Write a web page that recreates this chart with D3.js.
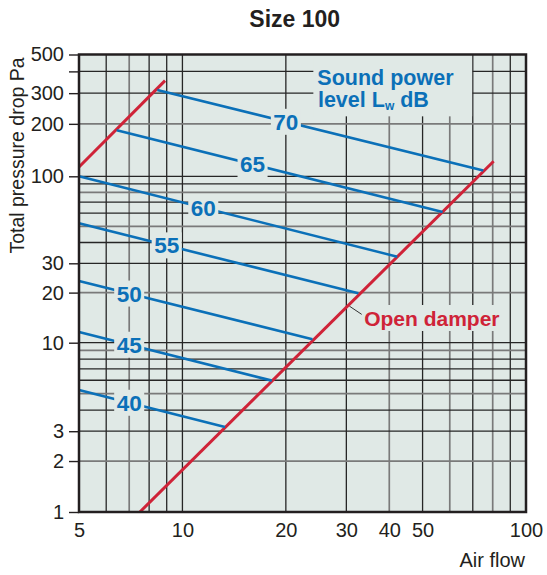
<!DOCTYPE html>
<html>
<head>
<meta charset="utf-8">
<script src="https://cdn.jsdelivr.net/npm/d3@7"></script>
<style>
  body { margin: 0; background: #fff; }
  svg { display: block; font-family: "Liberation Sans", Arial, sans-serif; }
</style>
</head>
<body>
<div id="chart"></div>
<script>
// sound power level lines, dB (start point / end point on the damper curve)
const levels = [40, 45, 50, 55, 60, 65, 70];
const startFlow = [5, 5, 5, 5, 5, 6.44, 8.45];
const startDrop = [5.26, 11.6, 23.5, 52.2, 100, 184, 313];
const endFlow = [13.3, 18.2, 23.9, 32.5, 42.2, 57.2, 75.1];
const endDrop = [3.18, 5.97, 10.5, 19.8, 32.9, 61, 108];
const labelFlow = [7, 7, 7, 9, 11.5, 16, 20];

// open damper curve, drawn in two pieces
const damperFlowA = [5, 8.9],
  damperDropA = [113, 354];
const damperFlowB = [7.52, 80.5],
  damperDropB = [1, 122];

// axes
const xTicks = [5, 10, 20, 30, 40, 50, 100];
const xGrid = [6, 7, 8, 9, 10, 20, 30, 40, 50, 60, 70, 80, 90];
const yTicks = [1, 2, 3, 10, 20, 30, 100, 200, 300, 400, 500];
const yGrid = [2, 3, 4, 5, 6, 7, 8, 9, 10, 20, 30, 40, 50, 60, 70, 80, 90, 100, 200, 300, 400];

// gridlines printed lighter in the original
const xGray = [7, 40, 60, 80],
  yGray = [2, 5, 9, 20, 50, 80, 200];

const blue = "#0b70b8",
  red = "#cf2338",
  ink = "#231f20",
  paper = "#e0e9e6";

let draw = () => {
  var width = 547,
    height = 575;

  var svg = d3
    .select("#chart")
    .append("svg")
    .attr("width", width)
    .attr("height", height);

  var x = d3.scaleLog().domain([5, 100]).range([79, 526]),
    y = d3.scaleLog().domain([1, 10, 100, 500]).range([512, 342.7, 176.3, 54.5]);

  var x0 = x(5),
    x1 = x(100),
    y0 = y(1),
    y1 = y(500);

  // background
  svg
    .append("rect")
    .attr("x", x0)
    .attr("y", y1)
    .attr("width", x1 - x0)
    .attr("height", y0 - y1)
    .attr("fill", paper);

  // grid
  var grid = svg.append("g");
  grid
    .selectAll(".vg")
    .data(xGrid)
    .enter()
    .append("line")
    .attr("x1", (d) => x(d))
    .attr("x2", (d) => x(d))
    .attr("y1", y1)
    .attr("y2", y0)
    .attr("stroke", (d) => (xGray.includes(d) ? "#7a7a7a" : "#262626"))
    .attr("stroke-width", (d) => (xGray.includes(d) ? 1.7 : 1.3));
  grid
    .selectAll(".hg")
    .data(yGrid)
    .enter()
    .append("line")
    .attr("x1", x0)
    .attr("x2", x1)
    .attr("y1", (d) => y(d))
    .attr("y2", (d) => y(d))
    .attr("stroke", (d) => (yGray.includes(d) ? "#7a7a7a" : "#262626"))
    .attr("stroke-width", (d) => (yGray.includes(d) ? 1.7 : 1.3));

  // "Sound power level Lw dB" note
  var note = svg.append("g");
  var nt = note
    .append("text")
    .attr("x", x(24.7))
    .attr("y", y(334))
    .attr("fill", blue)
    .attr("font-weight", "bold")
    .attr("font-size", 21.5);
  nt.append("tspan").text("Sound power");
  nt.append("tspan").attr("x", x(24.8)).attr("dy", 22.3).text("level L");
  nt.append("tspan").attr("font-size", 12).attr("dy", 3).text("w");
  nt.append("tspan").attr("dy", -3).text(" dB");
  var nb = nt.node().getBBox();
  note
    .insert("rect", "text")
    .attr("x", nb.x - 4)
    .attr("y", y1)
    .attr("width", nb.width + 22)
    .attr("height", nb.y + nb.height + 3 - y1)
    .attr("fill", paper);

  // "Open damper" note
  var od = svg.append("g");
  var ot = od
    .append("text")
    .attr("x", x(33.8))
    .attr("y", y(12.6))
    .attr("fill", red)
    .attr("font-weight", "bold")
    .attr("font-size", 21)
    .text("Open damper");
  var ob = ot.node().getBBox();
  od.insert("rect", "text")
    .attr("x", ob.x - 3)
    .attr("y", ob.y - 2)
    .attr("width", ob.width + 6)
    .attr("height", ob.height + 3)
    .attr("fill", paper);
  od.append("line")
    .attr("x1", x(30.6))
    .attr("y1", y(16.6))
    .attr("x2", x(33.25))
    .attr("y2", y(14.8))
    .attr("stroke", "#333")
    .attr("stroke-width", 1);

  var Line = d3
    .line()
    .x((d) => x(d[0]))
    .y((d) => y(d[1]));

  // open damper curve
  [d3.zip(damperFlowA, damperDropA), d3.zip(damperFlowB, damperDropB)].forEach((pts) => {
    svg
      .append("path")
      .attr("d", Line(pts))
      .attr("fill", "none")
      .attr("stroke", red)
      .attr("stroke-width", 3);
  });

  // sound power lines
  levels.forEach((lv, i) => {
    var pts = [
      [startFlow[i], startDrop[i]],
      [endFlow[i], endDrop[i]],
    ];
    svg
      .append("path")
      .attr("d", Line(pts))
      .attr("fill", "none")
      .attr("stroke", blue)
      .attr("stroke-width", 2.6);
  });

  // level labels sit on their lines and break them
  levels.forEach((lv, i) => {
    var ax = x(startFlow[i]),
      ay = y(startDrop[i]),
      bx = x(endFlow[i]),
      by = y(endDrop[i]);
    var lx = x(labelFlow[i]),
      t = (lx - ax) / (bx - ax),
      ly = ay + t * (by - ay);
    var g = svg.append("g");
    var tx = g
      .append("text")
      .attr("x", lx)
      .attr("y", ly)
      .attr("dy", "0.36em")
      .attr("text-anchor", "middle")
      .attr("fill", blue)
      .attr("font-weight", "bold")
      .attr("font-size", 22.5)
      .text(lv);
    var b = tx.node().getBBox();
    g.insert("rect", "text")
      .attr("x", b.x - 2.5)
      .attr("y", b.y - 1)
      .attr("width", b.width + 5)
      .attr("height", b.height + 1)
      .attr("fill", paper);
  });

  // frame
  svg
    .append("rect")
    .attr("x", x0)
    .attr("y", y1)
    .attr("width", x1 - x0)
    .attr("height", y0 - y1)
    .attr("fill", "none")
    .attr("stroke", ink)
    .attr("stroke-width", 2.5);

  // axes
  var ya = svg
    .append("g")
    .attr("transform", `translate(${x0}, 0)`)
    .call(
      d3
        .axisLeft(y)
        .tickValues(yTicks)
        .tickSize(10)
        .tickPadding(5)
        .tickFormat((d) => (d === 400 ? "" : d))
    );
  ya.select(".domain").remove();
  ya.selectAll(".tick line").attr("stroke", ink).attr("stroke-width", 1.4);
  ya.selectAll("text")
    .attr("fill", ink)
    .attr("font-size", 20)
    .attr("font-family", "Liberation Sans, Arial, sans-serif");

  var xa = svg
    .append("g")
    .attr("transform", `translate(0, ${y0})`)
    .call(
      d3
        .axisBottom(x)
        .tickValues(xTicks)
        .tickSize(0)
        .tickPadding(11)
        .tickFormat(d3.format("d"))
    );
  xa.select(".domain").remove();
  xa.selectAll("text")
    .attr("fill", ink)
    .attr("font-size", 20)
    .attr("font-family", "Liberation Sans, Arial, sans-serif");

  // titles
  svg
    .append("text")
    .attr("x", 294.7)
    .attr("y", 27)
    .attr("text-anchor", "middle")
    .attr("fill", ink)
    .attr("font-weight", "bold")
    .attr("font-size", 23)
    .text("Size 100");

  svg
    .append("text")
    .attr("transform", "translate(24, 155.5) rotate(-90)")
    .attr("text-anchor", "middle")
    .attr("fill", ink)
    .attr("font-size", 19.5)
    .text("Total pressure drop Pa");

  svg
    .append("text")
    .attr("x", 525)
    .attr("y", 567)
    .attr("text-anchor", "end")
    .attr("fill", ink)
    .attr("font-size", 20)
    .text("Air flow");
};

draw();
</script>
</body>
</html>
